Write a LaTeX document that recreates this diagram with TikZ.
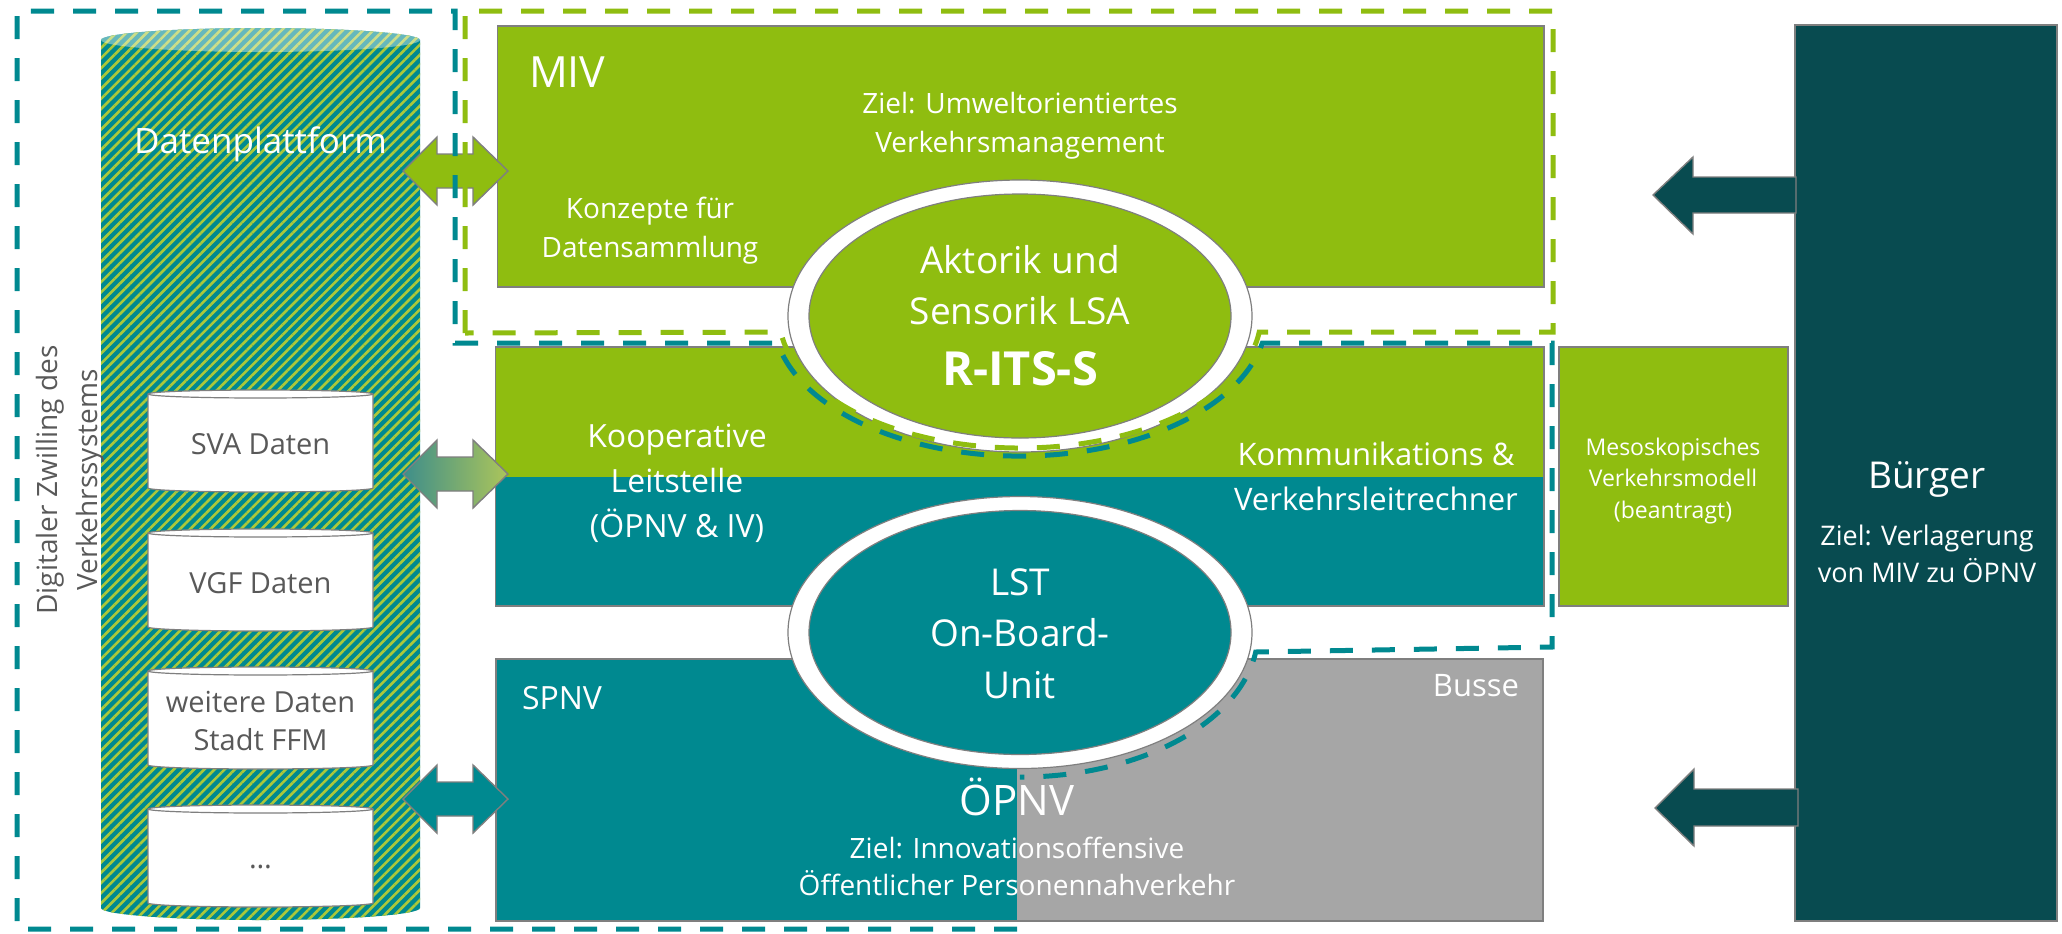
\documentclass[tikz,border=0pt]{standalone}
\usepackage{fontspec}
\setmainfont{Open Sans}
\usetikzlibrary{patterns.meta,shapes.geometric}
\definecolor{mygreen}{RGB}{143,189,16}
\definecolor{myteal}{RGB}{0,137,144}
\definecolor{mydark}{RGB}{8,75,80}
\definecolor{mygrey}{RGB}{166,166,166}
\definecolor{bordergrey}{RGB}{127,127,127}
\definecolor{textgrey}{RGB}{89,89,89}
\definecolor{stripe}{RGB}{172,200,58}
\definecolor{gradl}{RGB}{62,142,138}
\definecolor{gradr}{RGB}{172,197,90}
\newcommand\fsz[2]{\fontsize{#1pt}{#2pt}\selectfont}
\newcommand\dblarr[2]{\path[blockarrow,#2] (403,#1) -- (437,#1-34) -- (437,#1-17) -- (473,#1-17) -- (473,#1-34) -- (508,#1) -- (473,#1+34) -- (473,#1+17) -- (437,#1+17) -- (437,#1+34) -- cycle;}
\newcommand\smallcyl[2]{%
  \filldraw[fill=white,draw=bordergrey,line width=0.6pt] (148,#1) -- (148,#2) arc[start angle=180,end angle=0,x radius=112.5,y radius=4] -- (373,#1) arc[start angle=0,end angle=-180,x radius=112.5,y radius=4] -- cycle;
  \draw[bordergrey,line width=0.6pt] (148,#1) arc[start angle=180,end angle=0,x radius=112.5,y radius=4];}
\begin{document}
\begin{tikzpicture}[x=0.5pt,y=-0.5pt,
  box/.style={draw=bordergrey,line width=0.7pt,inner sep=0pt,outer sep=0pt,anchor=north west},
  lbl/.style={text=white,inner sep=0pt,outer sep=0pt,align=center,anchor=base},
  ring/.style={ellipse,draw=bordergrey,line width=0.6pt,fill=white,inner sep=0pt,minimum width=232pt,minimum height=136pt},
  core/.style={ellipse,draw=bordergrey,line width=0.6pt,inner sep=0pt,minimum width=211pt,minimum height=122pt},
  dashline/.style={line width=2.5pt,dash pattern=on 11.5pt off 9.5pt},
  blockarrow/.style={draw=bordergrey,line width=0.7pt}]
\useasboundingbox (0,0) rectangle (2062,933);
\fill[white] (0,0) rectangle (2062,933);

% Datenplattform cylinder
\path[fill=myteal] (101,40) -- (101,908) arc[start angle=180,end angle=0,x radius=159.5,y radius=12] -- (420,40) arc[start angle=0,end angle=-180,x radius=159.5,y radius=12] -- cycle;
\path[pattern={Lines[angle=45,distance=3.6pt,line width=1.3pt]},pattern color=stripe] (101,40) -- (101,908) arc[start angle=180,end angle=0,x radius=159.5,y radius=12] -- (420,40) arc[start angle=0,end angle=-180,x radius=159.5,y radius=12] -- cycle;
\fill[white,fill opacity=0.4] (260.5,40) ellipse[x radius=159.5,y radius=12];
\node[lbl,font=\fsz{17.5}{21}] (dp) at (260.5,153) {Datenplattform};

\smallcyl{394}{488}
\smallcyl{533}{627}
\smallcyl{671}{765}
\smallcyl{809}{903}
\node[lbl,text=textgrey,font=\fsz{14.5}{19}] (sva) at (260.5,454) {SVA Daten};
\node[lbl,text=textgrey,font=\fsz{14.5}{19}] (vgf) at (260.5,593) {VGF Daten};
\node[lbl,text=textgrey,font=\fsz{14.5}{19}] (wd) at (260.5,750) {weitere Daten\\Stadt FFM};
\node[lbl,text=textgrey,font=\fsz{14.5}{19}] (more) at (260.5,868) {…};

\node[lbl,text=textgrey,rotate=90,font=\fsz{14}{20}] (dz) at (97,480) {Digitaler Zwilling des\\Verkehrssystems};

% boxes
\node[box,fill=mygreen,minimum width=523.25pt,minimum height=130.5pt] (miv) at (497.5,26) {};
\fill[mygreen] (495.5,347) rectangle (1544,477);
\fill[myteal] (495.5,477) rectangle (1544,606);
\node[box,minimum width=524.25pt,minimum height=129.5pt] (mid) at (495.5,347) {};
\fill[mygrey] (496,659) rectangle (1543,921);
\fill[myteal] (496,659) rectangle (1017,921);
\node[box,minimum width=523.5pt,minimum height=131pt] (opnv) at (496,659) {};
\node[box,fill=mygreen,minimum width=114.5pt,minimum height=129.5pt] (meso) at (1559,347) {};
\node[box,fill=mydark,minimum width=131pt,minimum height=448pt] (buerger) at (1795,25) {};

% ellipses
\node[ring] (ritsO) at (1020,316) {};
\node[core,fill=mygreen] (rits) at (1020,316) {};
\node[ring] (lstO) at (1020,632.5) {};
\node[core,fill=myteal] (lst) at (1020,632.5) {};

% block arrows
\dblarr{171}{fill=mygreen}
\dblarr{474}{left color=gradl,right color=gradr}
\dblarr{799}{fill=myteal}
\path[blockarrow,fill=mydark] (1796,177) -- (1693,177) -- (1693,157) -- (1653,195) -- (1693,234) -- (1693,213) -- (1796,213) -- cycle;
\path[blockarrow,fill=mydark] (1798,789) -- (1694,789) -- (1694,769) -- (1655,808) -- (1694,846) -- (1694,826) -- (1798,826) -- cycle;

% dashed outlines
\draw[dashline,mygreen] (465,333) -- (465,11) -- (1553,11) -- (1553,332) -- (1259.2,332.1) arc[start angle=7,end angle=173,x radius=241,y radius=132] -- cycle;
\draw[dashline,myteal] (1017,929) -- (17,929) -- (17,11) -- (455,11) -- (455,343) -- (777.6,343) arc[start angle=168.9,end angle=11.1,x radius=247,y radius=140] -- (1552,343) -- (1552,647) -- (1255.7,652) arc[start angle=7.9,end angle=90,x radius=238,y radius=145];

% texts
\node[lbl,anchor=base west,font=\fsz{21.5}{26}] (mivt) at (529,87) {MIV};
\node[lbl,font=\fsz{14}{19.5}] (zielmiv) at (1020,152) {Ziel: Umweltorientiertes\\Verkehrsmanagement};
\node[lbl,font=\fsz{14}{19.5}] (konz) at (650,257) {Konzepte für\\Datensammlung};
\node[lbl,font=\fsz{18.5}{25.5}] (akt) at (1020,324) {Aktorik und\\Sensorik LSA};
\node[lbl,font=\bfseries\fsz{23.5}{28}] (ritst) at (1020,385) {R-ITS-S};
\node[lbl,font=\fsz{16}{22.5}] (koop) at (677,537) {Kooperative\\Leitstelle\\(ÖPNV \& IV)};
\node[lbl,font=\fsz{15.5}{22.5}] (komm) at (1376,510) {Kommunikations \&\\Verkehrsleitrechner};
\node[lbl,font=\fsz{18.5}{25.75}] (lstt) at (1020,698) {LST\\On-Board-\\Unit};
\node[lbl,anchor=base west,font=\fsz{16}{20}] (spnv) at (522,709) {SPNV};
\node[lbl,anchor=base east,font=\fsz{15.5}{20}] (busse) at (1519,696) {Busse};
\node[lbl,font=\fsz{21}{26}] (opnvt) at (1017,815) {ÖPNV};
\node[lbl,font=\fsz{14}{18.5}] (zielopnv) at (1017,895) {Ziel: Innovationsoffensive\\Öffentlicher Personennahverkehr};
\node[lbl,font=\fsz{11.5}{15.75}] (mesot) at (1673,518) {Mesoskopisches\\Verkehrsmodell\\(beantragt)};
\node[lbl,font=\fsz{18.5}{24}] (buergert) at (1927,488) {Bürger};
\node[lbl,font=\fsz{13.5}{18.5}] (zielb) at (1927,582) {Ziel: Verlagerung\\von MIV zu ÖPNV};
\end{tikzpicture}
\end{document}
